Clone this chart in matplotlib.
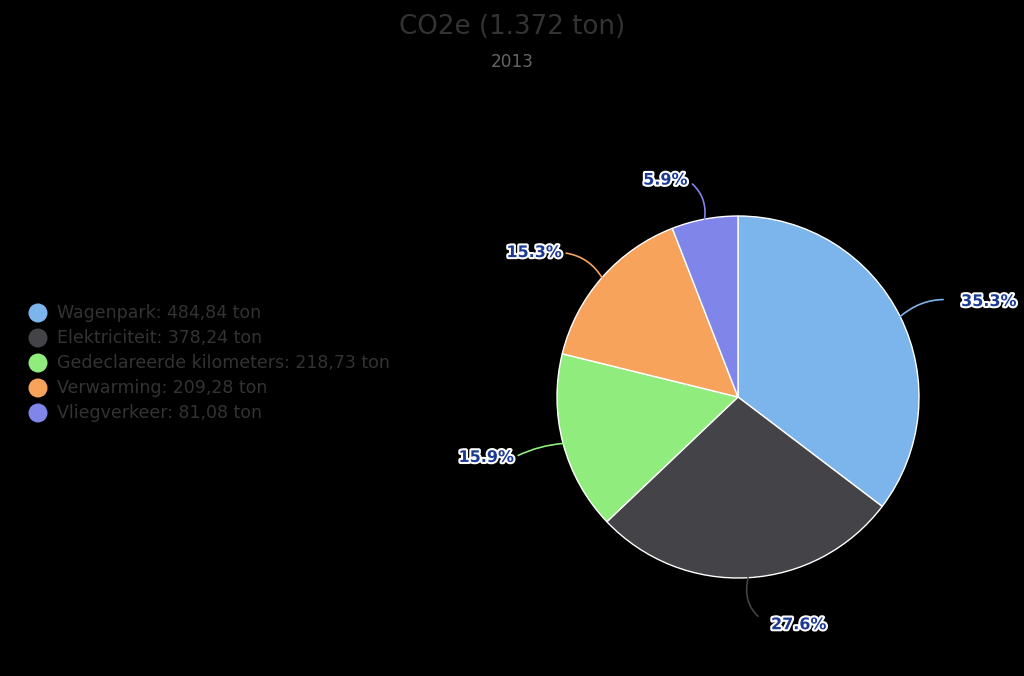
import matplotlib
matplotlib.use("Agg")
import matplotlib.pyplot as plt
import matplotlib.patheffects as pe
import numpy as np

# ---- data ----
categories = ["Wagenpark", "Elektriciteit", "Gedeclareerde kilometers", "Verwarming", "Vliegverkeer"]
values = [484.84, 378.24, 218.73, 209.28, 81.08]
value_labels = ["484,84", "378,24", "218,73", "209,28", "81,08"]
colors = ["#7cb5ec", "#434348", "#90ed7d", "#f7a35c", "#8085e9"]
title = "CO2e (1.372 ton)"
subtitle = "2013"

# label offsets (pixels) relative to slice edge midpoint, alignment, curvature, gap
label_offsets = [(61, 15, "left", 0.25, 11), (23, -47, "left", -0.4, 9), (-49, -14, "right", -0.1, 1),
                 (-40, 25, "right", -0.25, 1), (-17, 39, "right", -0.3, 2)]

W, H = 1024, 676
fig = plt.figure(figsize=(W / 100, H / 100), dpi=100, facecolor="black")
ax = fig.add_axes([0, 0, 1, 1])
ax.set_facecolor("black")

cx, cy, r = 738, H - 397, 181
wedges, _ = ax.pie(values, colors=colors, startangle=90, counterclock=False,
                   center=(cx, cy), radius=r,
                   wedgeprops=dict(edgecolor="white", linewidth=1.0))
ax.set_xlim(0, W)
ax.set_ylim(0, H)
ax.set_aspect("equal")
ax.set_axis_off()

total = sum(values)
for w, v, c, (dx, dy, ha, rad, gap) in zip(wedges, values, colors, label_offsets):
    mid = np.deg2rad((w.theta1 + w.theta2) / 2)
    ex, ey = cx + r * np.cos(mid), cy + r * np.sin(mid)
    pct = f"{100 * v / total:.1f}%"
    ax.annotate(pct, xy=(ex, ey), xytext=(dx, dy), textcoords="offset pixels",
                ha=ha, va="center", fontsize=11.5, fontweight="bold", color="#1c3a94",
                path_effects=[pe.withStroke(linewidth=3, foreground="white")],
                arrowprops=dict(arrowstyle="-", color=c, lw=1.2, shrinkA=gap, shrinkB=0,
                                relpos=(0, 0.5) if ha == "left" else (1, 0.5),
                                connectionstyle=f"arc3,rad={rad}"))

fig.text(0.5, 1 - 27 / H, title, ha="center", va="center", fontsize=18.8, color="#333333")
fig.text(0.5, 1 - 62 / H, subtitle, ha="center", va="center", fontsize=12.2, color="#666666")

for i, (name, vl, c) in enumerate(zip(categories, value_labels, colors)):
    y = H - (313 + i * 25)
    ax.scatter([38], [y], s=(9.5 * 0.72 * 2) ** 2, color=c, edgecolors="none")
    ax.text(57, y, f"{name}: {vl} ton", ha="left", va="center", fontsize=12.5, color="#333333")

fig.savefig("out.png", dpi=100, facecolor="black")
